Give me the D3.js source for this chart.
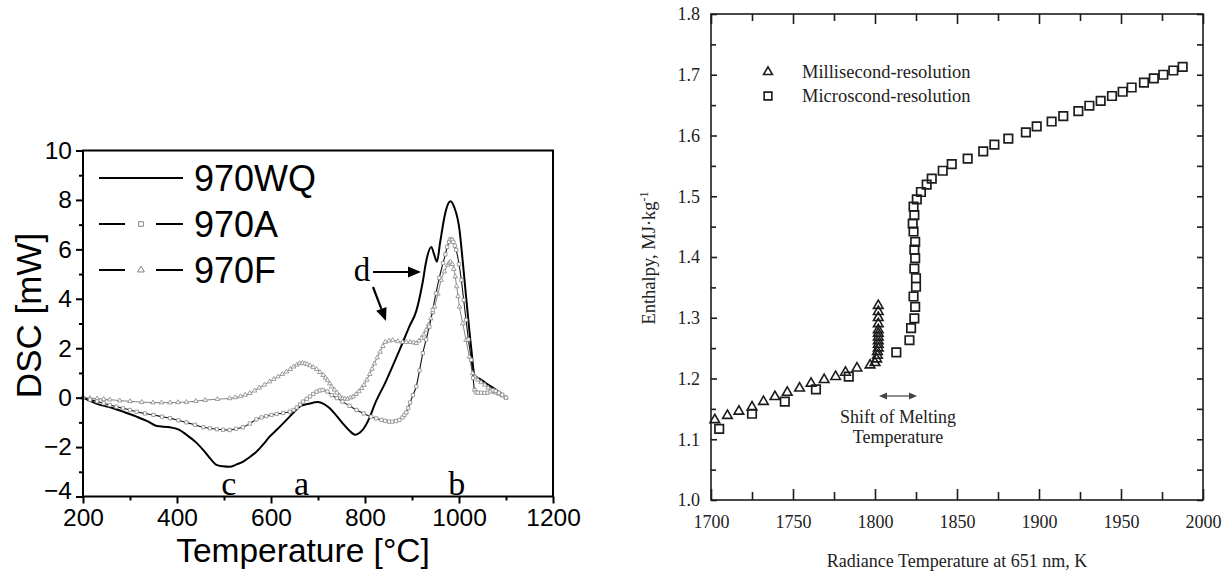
<!DOCTYPE html>
<html>
<head>
<meta charset="utf-8">
<script src="https://cdn.jsdelivr.net/npm/d3@7"></script>
<style>
  body { margin: 0; background: #fff; }
  svg { display: block; }
</style>
</head>
<body>
<svg id="chart" width="1231" height="577"></svg>
<script>
// Left panel data (DSC)
// ---------------------
const wqTemp = [200, 230, 264, 290, 314, 340, 357, 385, 405, 420, 440, 456, 470, 484, 498, 512, 527, 541, 555, 569, 583, 597, 615, 633, 648, 661, 680, 700, 712, 725, 740, 752, 765, 779, 790, 798, 810, 820, 843, 873, 895, 909, 923, 930, 941, 947, 953, 960, 970, 977, 982, 990, 1001, 1008, 1015, 1026, 1033, 1045, 1060, 1080, 1095];
const wqDsc = [0, -0.25, -0.43, -0.6, -0.77, -0.98, -1.15, -1.2, -1.3, -1.5, -1.8, -2.12, -2.45, -2.72, -2.78, -2.8, -2.7, -2.59, -2.4, -2.19, -1.9, -1.58, -1.25, -0.9, -0.6, -0.36, -0.25, -0.18, -0.25, -0.43, -0.75, -1.03, -1.3, -1.5, -1.4, -1.23, -0.8, -0.3, 0.6, 1.9, 2.9, 3.5, 4.7, 5.5, 6.1, 5.8, 5.5, 6.3, 7.4, 7.85, 7.95, 7.7, 6.8, 5.5, 4.1, 2.0, 0.9, 0.75, 0.55, 0.3, 0.1];

const aTemp = [200, 215, 230, 244, 257, 271, 285, 300, 314, 332, 350, 368, 385, 403, 420, 438, 456, 470, 485, 498, 512, 526, 540, 555, 569, 580, 590, 601, 612, 626, 640, 648, 655, 662, 668, 676, 683, 690, 697, 704, 710, 720, 729, 740, 752, 767, 782, 797, 813, 824, 835, 843, 851, 858, 866, 873, 880, 884, 888, 892, 896, 902, 909, 916, 923, 930, 937, 944, 951, 958, 966, 971, 975, 979, 982, 985, 988, 991, 994, 1000, 1005, 1010, 1015, 1020, 1026, 1030, 1033, 1036, 1040, 1047, 1054, 1061, 1067, 1072, 1078, 1085, 1092, 1100];
const aDsc = [0, -0.08, -0.15, -0.23, -0.3, -0.37, -0.43, -0.5, -0.57, -0.64, -0.7, -0.77, -0.83, -0.92, -1.0, -1.1, -1.2, -1.24, -1.28, -1.3, -1.31, -1.26, -1.2, -1.05, -0.88, -0.8, -0.75, -0.7, -0.66, -0.62, -0.57, -0.5, -0.4, -0.28, -0.16, -0.05, 0.05, 0.15, 0.24, 0.29, 0.31, 0.25, 0.1, -0.02, -0.16, -0.33, -0.5, -0.64, -0.77, -0.84, -0.9, -0.94, -0.97, -0.97, -0.95, -0.9, -0.8, -0.7, -0.6, -0.42, -0.2, 0.1, 0.45, 1.1, 1.8, 2.35, 2.87, 3.55, 4.22, 4.85, 5.44, 5.8, 6.1, 6.3, 6.41, 6.38, 6.3, 6.15, 5.98, 5.4, 4.76, 3.95, 3.14, 2.35, 1.53, 0.8, 0.31, 0.22, 0.2, 0.2, 0.19, 0.2, 0.25, 0.3, 0.27, 0.2, 0.12, 0];

const fTemp = [200, 215, 230, 244, 257, 278, 300, 325, 349, 367, 385, 402, 420, 440, 460, 486, 512, 524, 535, 545, 555, 565, 575, 586, 597, 606, 615, 624, 633, 641, 648, 655, 661, 667, 672, 677, 683, 690, 697, 704, 711, 716, 720, 725, 729, 735, 740, 746, 752, 757, 763, 769, 775, 781, 787, 793, 798, 804, 810, 815, 820, 826, 832, 838, 843, 851, 859, 870, 880, 888, 896, 903, 909, 915, 920, 925, 930, 935, 940, 944, 948, 955, 962, 969, 976, 979, 982, 986, 989, 992, 995, 998, 1001, 1008, 1015, 1022, 1029, 1034, 1040, 1047, 1055, 1062, 1069, 1077, 1085, 1092, 1100];
const fDsc = [0, -0.02, -0.04, -0.06, -0.08, -0.12, -0.15, -0.18, -0.2, -0.2, -0.2, -0.19, -0.18, -0.14, -0.1, -0.06, -0.03, 0.01, 0.05, 0.11, 0.18, 0.28, 0.4, 0.52, 0.65, 0.75, 0.85, 0.95, 1.05, 1.15, 1.25, 1.33, 1.39, 1.4, 1.38, 1.35, 1.3, 1.23, 1.15, 1.03, 0.91, 0.8, 0.7, 0.57, 0.44, 0.32, 0.2, 0.08, -0.03, -0.05, -0.05, 0, 0.04, 0.14, 0.25, 0.38, 0.51, 0.72, 0.95, 1.16, 1.38, 1.62, 1.85, 2.08, 2.25, 2.3, 2.33, 2.28, 2.25, 2.25, 2.25, 2.23, 2.2, 2.3, 2.4, 2.55, 2.74, 2.95, 3.2, 3.45, 3.68, 4.2, 4.76, 5.1, 5.37, 5.45, 5.5, 5.4, 5.2, 4.9, 4.5, 4.1, 3.68, 3.0, 2.33, 1.65, 0.99, 0.85, 0.72, 0.62, 0.52, 0.4, 0.25, 0.2, 0.15, 0.08, 0];

const dscTicks = [-4, -2, 0, 2, 4, 6, 8, 10];
const dscMinor = [-3, -1, 1, 3, 5, 7, 9];
const tempTicks = [200, 400, 600, 800, 1000, 1200];
const tempMinor = [300, 500, 700, 900, 1100];
const dscSeries = ["970WQ", "970A", "970F"];

// Right panel data (enthalpy)
// ---------------------------
const milliTemp = [1702.3, 1710, 1717, 1725, 1732, 1739, 1746.5, 1754, 1761, 1769, 1776, 1782, 1789, 1797, 1800, 1801, 1801.5, 1801.5, 1802, 1802, 1802, 1802, 1802, 1802, 1802, 1802, 1802, 1802];
const milliEnth = [1.132, 1.139, 1.146, 1.153, 1.162, 1.17, 1.177, 1.184, 1.192, 1.198, 1.203, 1.21, 1.217, 1.222, 1.226, 1.232, 1.238, 1.244, 1.25, 1.256, 1.262, 1.268, 1.274, 1.28, 1.29, 1.3, 1.31, 1.32];

const microTemp = [1705, 1725, 1745, 1764, 1784, 1813, 1821, 1822, 1824, 1824.5, 1823.5, 1825, 1825, 1824, 1824.5, 1824, 1824.5, 1823.5, 1823, 1824, 1823.5, 1825.5, 1828, 1831.5, 1834.6, 1841.3, 1846.8, 1856.5, 1866, 1872.8, 1881.3, 1892, 1898.6, 1907.7, 1914.8, 1924, 1930.7, 1937.6, 1944.5, 1951, 1956.5, 1964, 1970, 1975.8, 1981.9, 1987.6];
const microEnth = [1.117, 1.142, 1.162, 1.182, 1.203, 1.243, 1.263, 1.283, 1.299, 1.318, 1.335, 1.351, 1.365, 1.381, 1.398, 1.412, 1.425, 1.442, 1.455, 1.469, 1.483, 1.495, 1.507, 1.519, 1.529, 1.542, 1.553, 1.562, 1.574, 1.585, 1.595, 1.605, 1.615, 1.623, 1.632, 1.64, 1.649, 1.657, 1.665, 1.672, 1.679, 1.687, 1.694, 1.7, 1.707, 1.713];

const enthTicks = [1.0, 1.1, 1.2, 1.3, 1.4, 1.5, 1.6, 1.7, 1.8];
const enthMinor = [1.05, 1.15, 1.25, 1.35, 1.45, 1.55, 1.65, 1.75];
const radTicks = [1700, 1750, 1800, 1850, 1900, 1950, 2000];
const radMinor = [1725, 1775, 1825, 1875, 1925, 1975];
const enthSeries = ["Millisecond-resolution", "Microscond-resolution"];

const svg = d3.select("#chart");
svg.append("rect").attr("width", 1231).attr("height", 577).attr("fill", "#fff");

const zip = (xs, ys) => xs.map((x, i) => ({ x, y: ys[i] }));

// Left panel
// ----------
const sans = "'Liberation Sans', Arial, sans-serif";
const serif = "'Liberation Serif', 'Times New Roman', serif";

const xL = d3.scaleLinear().domain([200, 1200]).range([83, 553]);
const yL = d3.scaleLinear().domain([-4, 10]).range([496.5, 150.5]);
const left = svg.append("g");

const lineL = d3.line().x(d => xL(d.x)).y(d => yL(d.y)).curve(d3.curveMonotoneX);

left.append("path").datum(zip(fTemp, fDsc))
  .attr("d", lineL).attr("fill", "none").attr("stroke", "#666").attr("stroke-width", 0.8);
left.append("path").datum(zip(aTemp, aDsc))
  .attr("d", lineL).attr("fill", "none").attr("stroke", "#111").attr("stroke-width", 1.1);
left.append("path").datum(zip(wqTemp, wqDsc))
  .attr("d", lineL).attr("fill", "none").attr("stroke", "#000").attr("stroke-width", 2);

const triSmall = d3.symbol(d3.symbolTriangle, 9)();
const sqSmall = d3.symbol(d3.symbolSquare, 11)();

left.append("g").selectAll("path").data(zip(fTemp, fDsc)).join("path")
  .attr("d", triSmall)
  .attr("transform", d => `translate(${xL(d.x)},${yL(d.y)})`)
  .attr("fill", "#fff").attr("stroke", "#888").attr("stroke-width", 0.8);
left.append("g").selectAll("path").data(zip(aTemp, aDsc)).join("path")
  .attr("d", sqSmall)
  .attr("transform", d => `translate(${xL(d.x)},${yL(d.y)})`)
  .attr("fill", "#fff").attr("stroke", "#888").attr("stroke-width", 0.8);

// frame
left.append("rect")
  .attr("x", xL(200)).attr("y", yL(10))
  .attr("width", xL(1200) - xL(200)).attr("height", yL(-4) - yL(10))
  .attr("fill", "none").attr("stroke", "#000").attr("stroke-width", 2);

const yAxL = left.append("g").attr("transform", `translate(${xL(200)},0)`)
  .call(d3.axisLeft(yL).tickValues(dscTicks).tickSize(7).tickPadding(4).tickFormat(d3.format("d")));
left.append("g").attr("transform", `translate(${xL(200)},0)`)
  .call(d3.axisLeft(yL).tickValues(dscMinor).tickSize(4).tickFormat(""));
left.append("g").attr("transform", `translate(0,${yL(-4)})`)
  .call(d3.axisBottom(xL).tickValues(tempTicks).tickSize(7).tickPadding(5).tickFormat(d3.format("d")));
left.append("g").attr("transform", `translate(0,${yL(-4)})`)
  .call(d3.axisBottom(xL).tickValues(tempMinor).tickSize(4).tickFormat(""));

left.selectAll(".domain").remove();
left.selectAll(".tick line").attr("stroke", "#000").attr("stroke-width", 2);
left.selectAll(".tick text").attr("font-family", sans).attr("font-size", 24.5).attr("fill", "#000");
// the lowest y label sits a touch higher so it clears the x labels
yAxL.selectAll(".tick text").filter(d => d === -4).attr("dy", "0.1em");

left.append("text")
  .attr("x", 303).attr("y", 562)
  .attr("text-anchor", "middle").attr("font-family", sans).attr("font-size", 33.5)
  .text("Temperature [°C]");
left.append("text")
  .attr("transform", `translate(41,${(yL(10) + yL(-4)) / 2 - 8}) rotate(-90)`)
  .attr("text-anchor", "middle").attr("font-family", sans).attr("font-size", 35)
  .text("DSC [mW]");

// legend
const legL = left.append("g");
dscSeries.forEach((name, i) => {
  const ly = 178 + i * 46;
  const g = legL.append("g");
  if (i === 0) {
    g.append("line").attr("x1", 99).attr("x2", 183).attr("y1", ly).attr("y2", ly)
      .attr("stroke", "#000").attr("stroke-width", 2);
  } else {
    g.append("line").attr("x1", 99).attr("x2", 125).attr("y1", ly).attr("y2", ly)
      .attr("stroke", "#000").attr("stroke-width", 2);
    g.append("line").attr("x1", 156).attr("x2", 183).attr("y1", ly).attr("y2", ly)
      .attr("stroke", "#000").attr("stroke-width", 2);
    g.append("path").attr("d", i === 1 ? d3.symbol(d3.symbolSquare, 22)() : d3.symbol(d3.symbolTriangle, 20)())
      .attr("transform", `translate(141,${ly})`)
      .attr("fill", "#fff").attr("stroke", "#777").attr("stroke-width", 0.9);
  }
  g.append("text").attr("x", 194).attr("y", ly + 13)
    .attr("font-family", sans).attr("font-size", 36).text(name);
});

// annotations
const notes = left.append("g").attr("font-family", serif).attr("font-size", 34).attr("fill", "#000");
notes.append("text").attr("x", xL(510)).attr("y", 495).attr("text-anchor", "middle").text("c");
notes.append("text").attr("x", xL(665)).attr("y", 495).attr("text-anchor", "middle").text("a");
notes.append("text").attr("x", xL(995)).attr("y", 495).attr("text-anchor", "middle").text("b");
notes.append("text").attr("x", 362).attr("y", 281).attr("text-anchor", "middle").attr("font-size", 33).text("d");

function arrow(g, x1, y1, x2, y2) {
  const a = Math.atan2(y2 - y1, x2 - x1), L = 13, W = 5.5;
  const bx = x2 - L * Math.cos(a), by = y2 - L * Math.sin(a);
  g.append("line").attr("x1", x1).attr("y1", y1).attr("x2", bx).attr("y2", by)
    .attr("stroke", "#000").attr("stroke-width", 2.2);
  g.append("path")
    .attr("d", `M${x2},${y2}L${bx - W * Math.sin(a)},${by + W * Math.cos(a)}L${bx + W * Math.sin(a)},${by - W * Math.cos(a)}Z`)
    .attr("fill", "#000");
}
arrow(left, 373, 272, 421, 272);
arrow(left, 373, 287, 386, 321);

// Right panel
// -----------
const xR = d3.scaleLinear().domain([1700, 2000]).range([711, 1203]);
const yR = d3.scaleLinear().domain([1.0, 1.8]).range([500, 14]);
const right = svg.append("g");
const ink = "#1c1c1c";

right.append("rect")
  .attr("x", xR(1700)).attr("y", yR(1.8))
  .attr("width", xR(2000) - xR(1700)).attr("height", yR(1.0) - yR(1.8))
  .attr("fill", "none").attr("stroke", ink).attr("stroke-width", 1.6);

right.append("g").attr("transform", `translate(${xR(1700)},0)`)
  .call(d3.axisLeft(yR).tickValues(enthTicks).tickSize(-6).tickPadding(11).tickFormat(d3.format(".1f")));
right.append("g").attr("transform", `translate(${xR(1700)},0)`)
  .call(d3.axisLeft(yR).tickValues(enthMinor).tickSize(-5).tickFormat(""));
right.append("g").attr("transform", `translate(${xR(2000)},0)`)
  .call(d3.axisRight(yR).tickValues(enthTicks.concat(enthMinor)).tickSize(-6).tickFormat(""));
right.append("g").attr("transform", `translate(0,${yR(1.0)})`)
  .call(d3.axisBottom(xR).tickValues(radTicks).tickSize(-11).tickPadding(15).tickFormat(d3.format("d")));
right.append("g").attr("transform", `translate(0,${yR(1.0)})`)
  .call(d3.axisBottom(xR).tickValues(radMinor).tickSize(-8).tickFormat(""));
right.append("g").attr("transform", `translate(0,${yR(1.8)})`)
  .call(d3.axisTop(xR).tickValues(radTicks).tickSize(-10).tickFormat(""));
right.append("g").attr("transform", `translate(0,${yR(1.8)})`)
  .call(d3.axisTop(xR).tickValues(radMinor).tickSize(-7).tickFormat(""));

right.selectAll(".domain").remove();
right.selectAll(".tick line").attr("stroke", ink).attr("stroke-width", 1.6);
right.selectAll(".tick text").attr("font-family", serif).attr("font-size", 18).attr("fill", "#222");

const triBig = d3.symbol(d3.symbolTriangle, 40)();
const sqBig = d3.symbol(d3.symbolSquare, 72)();

right.append("g").selectAll("path").data(zip(microTemp, microEnth)).join("path")
  .attr("d", sqBig)
  .attr("transform", d => `translate(${xR(d.x)},${yR(d.y)})`)
  .attr("fill", "none").attr("stroke", ink).attr("stroke-width", 1.7);
right.append("g").selectAll("path").data(zip(milliTemp, milliEnth)).join("path")
  .attr("d", triBig)
  .attr("transform", d => `translate(${xR(d.x)},${yR(d.y)})`)
  .attr("fill", "none").attr("stroke", ink).attr("stroke-width", 1.6);

// legend
enthSeries.forEach((name, i) => {
  const ly = 72 + i * 24;
  right.append("path").attr("d", i === 0 ? d3.symbol(d3.symbolTriangle, 34)() : d3.symbol(d3.symbolSquare, 60)())
    .attr("transform", `translate(768,${ly})`)
    .attr("fill", "none").attr("stroke", ink).attr("stroke-width", 1.6);
  right.append("text").attr("x", 802).attr("y", ly + 6)
    .attr("font-family", serif).attr("font-size", 18.5).attr("fill", "#222").text(name);
});

// melting shift note
const ay = 396;
right.append("line").attr("x1", 884).attr("x2", 912).attr("y1", ay).attr("y2", ay)
  .attr("stroke", "#444").attr("stroke-width", 1.2);
right.append("path").attr("d", `M879,${ay}l8,-3.5v7z`).attr("fill", "#444");
right.append("path").attr("d", `M917,${ay}l-8,-3.5v7z`).attr("fill", "#444");
right.append("text").attr("x", 898).attr("y", 423).attr("text-anchor", "middle")
  .attr("font-family", serif).attr("font-size", 18).attr("fill", "#222").text("Shift of Melting");
right.append("text").attr("x", 898).attr("y", 443).attr("text-anchor", "middle")
  .attr("font-family", serif).attr("font-size", 18).attr("fill", "#222").text("Temperature");

right.append("text")
  .attr("x", (xR(1700) + xR(2000)) / 2).attr("y", 567).attr("text-anchor", "middle")
  .attr("font-family", serif).attr("font-size", 18).attr("fill", "#222")
  .text("Radiance Temperature at 651 nm, K");

const yt = right.append("text")
  .attr("transform", `translate(655,258) rotate(-90)`).attr("text-anchor", "middle")
  .attr("font-family", serif).attr("font-size", 18.5).attr("fill", "#222");
yt.append("tspan").text("Enthalpy, MJ·kg");
yt.append("tspan").attr("dy", -7).attr("font-size", 12).text("-1");
</script>
</body>
</html>
